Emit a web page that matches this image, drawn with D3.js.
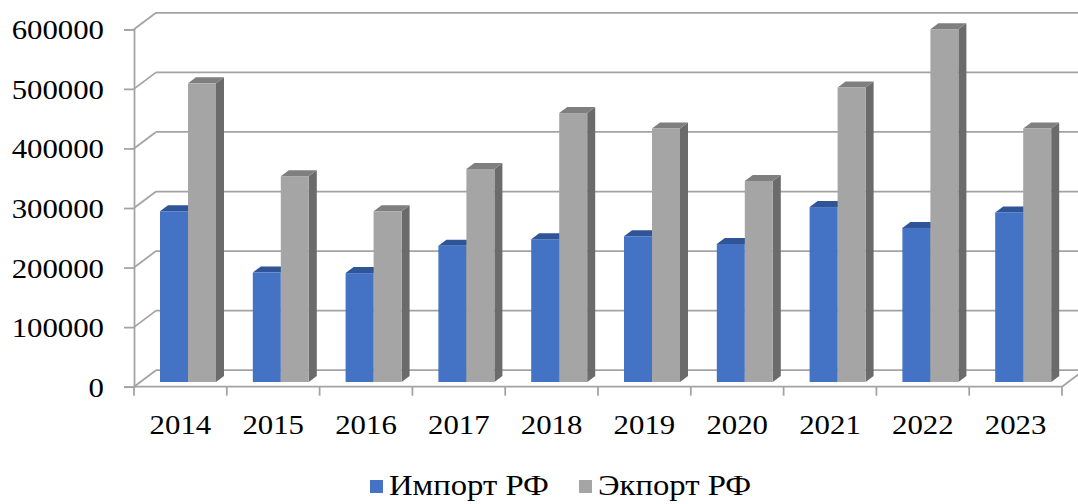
<!DOCTYPE html>
<html>
<head>
<meta charset="utf-8">
<script src="https://cdn.jsdelivr.net/npm/d3@7"></script>
<style>
  body { margin: 0; background: #fff; }
  svg { display: block; }
  text { font-family: "Liberation Serif", "Times New Roman", serif; fill: #000; }
</style>
</head>
<body>
<svg id="chart"></svg>
<script>
// data
let years = ["2014", "2015", "2016", "2017", "2018", "2019", "2020", "2021", "2022", "2023"];
let seriesNames = ["Импорт РФ", "Экпорт РФ"];
let importRF = [287000, 184000, 183000, 229000, 240000, 245000, 232000, 294000, 259000, 285000];
let exportRF = [502000, 346000, 287000, 358000, 452000, 426000, 338000, 495000, 593000, 426000];
let yTicks = [0, 100000, 200000, 300000, 400000, 500000, 600000];

function makeChart() {
    let w = 1078, h = 504;
    let svg = d3.select("#chart").attr("width", w).attr("height", h);

    let gridColor = "#a3a3a3";
    let depthX = 22, depthY = -16.5;      // back wall offset
    let barDx = 8, barDy = -6;            // bar depth

    let x = d3.scaleBand().domain(years).range([134, 1062]);
    let xSub = d3.scaleBand().domain(seriesNames).range([26, 82]);
    let yFront = d3.scaleLinear().domain([0, 600000]).range([386.7, 29.3]);
    let yBar = d3.scaleLinear().domain([0, 600000]).range([382, 25]);

    let colors = {
        "Импорт РФ": { front: "#4472c4", top: "#2f5597", side: "#2b4f8c" },
        "Экпорт РФ": { front: "#a5a5a5", top: "#7f7f7f", side: "#6b6b6b" }
    };

    // back wall and side wall gridlines
    let grid = svg.append("g");
    yTicks.forEach(t => {
        let yf = yFront(t);
        grid.append("line")
            .attr("x1", 134).attr("y1", yf)
            .attr("x2", 134 + depthX).attr("y2", yf + depthY)
            .attr("stroke", gridColor).attr("stroke-width", 1.75);
        grid.append("line")
            .attr("x1", 134 + depthX).attr("y1", yf + depthY)
            .attr("x2", 1062 + depthX).attr("y2", yf + depthY)
            .attr("stroke", gridColor).attr("stroke-width", 1.75);
    });
    // floor front edge and right edge
    grid.append("line")
        .attr("x1", 134).attr("y1", yFront(0))
        .attr("x2", 1062).attr("y2", yFront(0))
        .attr("stroke", gridColor).attr("stroke-width", 1.75);
    grid.append("line")
        .attr("x1", 1062).attr("y1", yFront(0))
        .attr("x2", 1062 + depthX).attr("y2", yFront(0) + depthY)
        .attr("stroke", gridColor).attr("stroke-width", 1.75);

    // y axis
    let yAxis = svg.append("g")
        .attr("transform", "translate(134,0)")
        .call(d3.axisLeft(yFront).tickValues(yTicks).tickSize(10).tickPadding(20).tickFormat(d3.format("d")));
    yAxis.selectAll("path, line").attr("stroke", gridColor).attr("stroke-width", 1.75);
    yAxis.selectAll("text")
        .style("font-size", "28px")
        .attr("font-family", null)
        .attr("x", -30 / 1.1)
        .attr("dy", "0.34em")
        .attr("transform", "scale(1.1,1)");

    // x axis boundary ticks
    let bounds = years.map(d => x(d)).concat([x.range()[1]]);
    svg.append("g").selectAll("line")
        .data(bounds)
        .enter()
        .append("line")
            .attr("x1", d => d).attr("x2", d => d)
            .attr("y1", yFront(0)).attr("y2", yFront(0) + 9)
            .attr("stroke", gridColor).attr("stroke-width", 1.75);

    let xAxis = svg.append("g")
        .attr("transform", "translate(0," + yFront(0) + ")")
        .call(d3.axisBottom(x).tickSize(0));
    xAxis.select(".domain").remove();
    xAxis.selectAll("text")
        .style("font-size", "28px")
        .attr("font-family", null)
        .attr("y", 0).attr("dy", 0)
        .attr("transform", "translate(0,47) scale(1.1,1)");

    // bars
    let bars = [];
    years.forEach((yr, i) => {
        bars.push({ year: yr, name: seriesNames[0], value: importRF[i] });
        bars.push({ year: yr, name: seriesNames[1], value: exportRF[i] });
    });

    let barG = svg.append("g").selectAll("g")
        .data(bars)
        .enter()
        .append("g");

    barG.each(function (d) {
        let g = d3.select(this);
        let x0 = x(d.year) + xSub(d.name);
        let bw = xSub.bandwidth();
        let top = yBar(d.value);
        let bottom = yBar(0);
        let c = colors[d.name];
        g.append("path")
            .attr("d", `M${x0 + bw},${top} L${x0 + bw + barDx},${top + barDy} L${x0 + bw + barDx},${bottom + barDy} L${x0 + bw},${bottom} Z`)
            .style("fill", c.side);
        g.append("path")
            .attr("d", `M${x0},${top} L${x0 + barDx},${top + barDy} L${x0 + bw + barDx},${top + barDy} L${x0 + bw},${top} Z`)
            .style("fill", c.top);
        g.append("rect")
            .attr("x", x0).attr("y", top)
            .attr("width", bw).attr("height", bottom - top)
            .style("fill", c.front);
    });

    // legend
    let legendX = [370, 579];
    let legend = svg.append("g").selectAll("g")
        .data(seriesNames)
        .enter()
        .append("g")
            .attr("transform", (d, i) => "translate(" + legendX[i] + ",480)");
    legend.append("rect")
        .attr("width", 13).attr("height", 13)
        .style("fill", d => colors[d].front);
    legend.append("text")
        .attr("transform", "translate(19,15) scale(1.09,1)")
        .style("font-size", "30px")
        .text(d => d);
}

window.onload = function () {
    makeChart();
};
</script>
</body>
</html>
